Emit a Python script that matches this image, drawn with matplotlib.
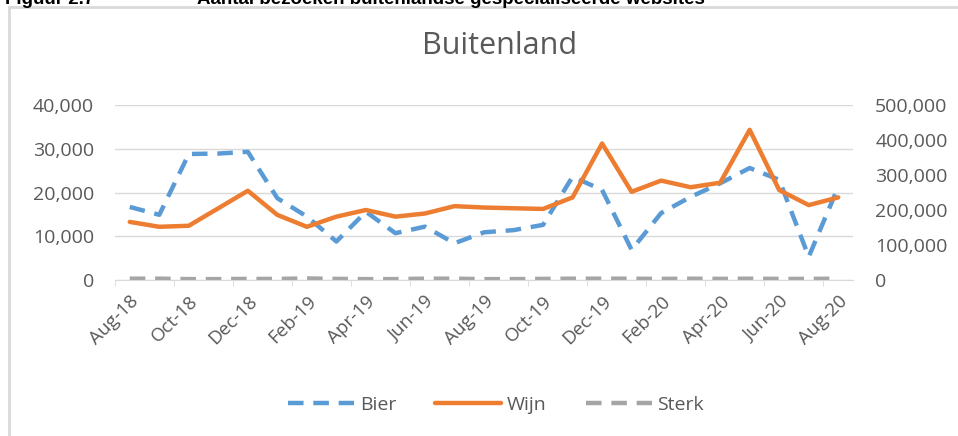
import numpy as np
import matplotlib
matplotlib.use("Agg")
import matplotlib.pyplot as plt
from matplotlib.patches import Rectangle
from matplotlib.ticker import FuncFormatter

months = ["Aug-18", "Sep-18", "Oct-18", "Nov-18", "Dec-18", "Jan-19", "Feb-19",
          "Mar-19", "Apr-19", "May-19", "Jun-19", "Jul-19", "Aug-19", "Sep-19",
          "Oct-19", "Nov-19", "Dec-19", "Jan-20", "Feb-20", "Mar-20", "Apr-20",
          "May-20", "Jun-20", "Jul-20", "Aug-20"]

# Bier on left axis, Wijn on right axis
bier = [16700, 14900, 28800, 28900, 29300, 18700, 14500, 8800, 15600, 10700,
        12200, 8400, 10900, 11400, 12600, 23600, 20600, 6900, 15300, 19000,
        22100, 25600, 22900, 5300, 21300]
wijn = [166000, 152000, 155000, 205000, 255000, 186000, 152000, 181000, 200000,
        181000, 190000, 211000, 207000, 205000, 203000, 236000, 390000, 252000,
        284000, 265000, 278000, 429000, 257000, 214000, 236000]
sterk = [300, 300, 200, 200, 250, 250, 350, 250, 200, 200, 300, 300, 200, 200,
         250, 300, 300, 300, 250, 300, 250, 300, 250, 250, 300]

grey_txt = "#595959"
grid_col = "#D9D9D9"
plt.rcParams["font.family"] = ["Open Sans", "DejaVu Sans"]

fig = plt.figure(figsize=(9.58, 4.36), dpi=100)

# chart frame and caption (caption is cut off at the top in the source)
fig.patches.append(Rectangle((9 / 958, -0.1), 1.2, 1 - 7 / 436 + 0.1,
                             transform=fig.transFigure, fill=False,
                             edgecolor="#D9D9D9", linewidth=2))
fig.text(5 / 958, 1 - 4 / 436, "Figuur 2.7", family="Liberation Sans",
         weight="bold", fontsize=13.5, va="baseline", ha="left")
fig.text(197 / 958, 1 - 4 / 436,
         "Aantal bezoeken buitenlandse gespecialiseerde websites",
         family="Liberation Sans", weight="bold", fontsize=13.5,
         va="baseline", ha="left")

ax = fig.add_axes([115 / 958, 1 - 280 / 436, (853 - 115) / 958, (280 - 105) / 436])
ax2 = ax.twinx()

x = np.arange(len(months))
l1, = ax.plot(x, bier, color="#5B9BD5", linewidth=3.2, dashes=(3.5, 2.2),
              label="Bier", zorder=3)
l3, = ax.plot(x, sterk, color="#A5A5A5", linewidth=3.2, dashes=(3.5, 2.2),
              label="Sterk", zorder=2)
l2, = ax2.plot(x, wijn, color="#ED7D31", linewidth=3.2, label="Wijn",
               solid_capstyle="round", solid_joinstyle="round")

ax.set_xlim(-0.5, len(months) - 0.5)
ax.set_ylim(0, 40000)
ax2.set_ylim(0, 500000)
ax.set_yticks(np.arange(0, 40001, 10000))
ax2.set_yticks(np.arange(0, 500001, 100000))
fmt = FuncFormatter(lambda v, p: f"{int(v):,}")
ax.yaxis.set_major_formatter(fmt)
ax2.yaxis.set_major_formatter(fmt)

ax.grid(axis="y", color=grid_col, linewidth=1)
ax.set_axisbelow(True)
for a in (ax, ax2):
    for s in a.spines.values():
        s.set_visible(False)
ax.spines["bottom"].set_visible(True)
ax.spines["bottom"].set_color(grid_col)

ax.set_xticks(x[::2])
ax.set_xticklabels(months[::2], rotation=45, ha="right", rotation_mode="anchor")
ax.set_xticks(np.arange(-0.5, len(months), 2), minor=True)
ax.tick_params(axis="x", which="major", length=0, pad=9, labelsize=13.5,
               labelcolor=grey_txt)
ax.tick_params(axis="x", which="minor", length=4, color=grid_col)
ax.tick_params(axis="y", length=0, pad=15, labelsize=14, labelcolor=grey_txt)
ax2.tick_params(axis="y", length=0, pad=16, labelsize=14, labelcolor=grey_txt)

fig.text(500 / 958, 1 - 46 / 436, "Buitenland", fontsize=22, color=grey_txt,
         ha="center", va="center")

fig.legend([l1, l2, l3], ["Bier", "Wijn", "Sterk"], loc="center", ncol=3,
           bbox_to_anchor=(496 / 958, 1 - 405 / 436), frameon=False,
           fontsize=14, labelcolor=grey_txt, handlelength=3.4,
           columnspacing=2.0, handletextpad=0.3)

fig.savefig("out.png", dpi=100)
